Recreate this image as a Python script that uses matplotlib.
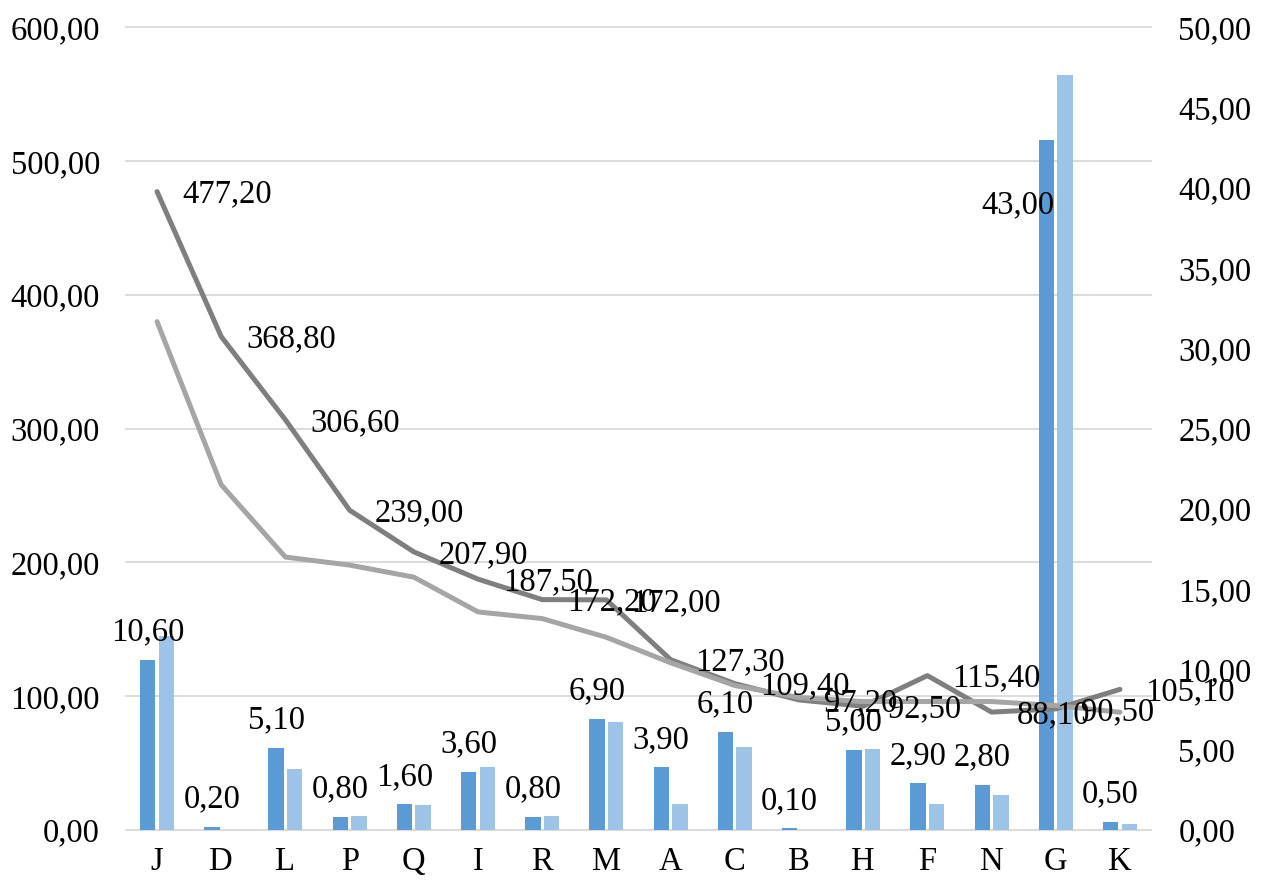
import numpy as np
import matplotlib
matplotlib.use("Agg")
import matplotlib.pyplot as plt

# data
categories = ['J', 'D', 'L', 'P', 'Q', 'I', 'R', 'M', 'A', 'C', 'B', 'H', 'F', 'N', 'G', 'K']
bars_dark = [10.60, 0.20, 5.10, 0.80, 1.60, 3.60, 0.80, 6.90, 3.90, 6.10, 0.10, 5.00, 2.90, 2.80, 43.00, 0.50]
bars_light = [12.1, 0.0, 3.8, 0.85, 1.55, 3.95, 0.85, 6.7, 1.6, 5.15, 0.0, 5.05, 1.6, 2.2, 47.0, 0.4]
line_dark = [477.20, 368.80, 306.60, 239.00, 207.90, 187.50, 172.20, 172.00, 127.30, 109.40,
             97.20, 92.50, 115.40, 88.10, 90.50, 105.10]
line_light = [380, 258, 204, 198, 189, 163, 158, 144, 125, 108, 99, 96, 96, 96, 93, 88]

left_ticks = [0, 100, 200, 300, 400, 500, 600]
right_ticks = [0, 5, 10, 15, 20, 25, 30, 35, 40, 45, 50]


def fmt(v):
    # comma decimal separator
    return f"{v:.2f}".replace('.', ',')


plt.rcParams['font.family'] = ['Liberation Serif', 'DejaVu Serif']
plt.rcParams['font.size'] = 23.5

fig = plt.figure(figsize=(12.66, 8.82), dpi=100)
ax = fig.add_axes([0.0987, 0.059, 0.8113, 0.910])   # lines, left scale
ax2 = ax.twinx()                                     # bars, right scale
ax.set_zorder(ax2.get_zorder() + 1)
ax.patch.set_visible(False)

x = np.arange(len(categories))
w = 0.24
off = 0.145

ax2.bar(x - off, bars_dark, w, color='#5B9BD5', zorder=2)
ax2.bar(x + off, bars_light, w, color='#9DC3E6', zorder=2)

# gridlines follow the left scale but sit behind the bars
ax2.set_ylim(0, 50)
ax2.set_yticks(right_ticks)
ax2.set_yticklabels([fmt(t) for t in right_ticks])
ax2.hlines(np.linspace(0, 50, len(left_ticks)), -0.5, len(categories) - 0.5,
           color='#D9D9D9', lw=1.3, zorder=0, clip_on=False)
ax2.tick_params(axis='y', length=0, pad=19)

ax.plot(x, line_dark, color='#7F7F7F', lw=3.6, solid_capstyle='round', zorder=3)
ax.plot(x, line_light, color='#A5A5A5', lw=3.6, solid_capstyle='round', zorder=3)

ax.set_ylim(0, 600)
ax.set_yticks(left_ticks)
ax.set_yticklabels([fmt(t) for t in left_ticks])
ax.set_xlim(-0.5, len(categories) - 0.5)
ax.set_xticks(x)
ax.set_xticklabels(categories)
ax.tick_params(axis='y', length=0, pad=18)
ax.tick_params(axis='x', length=0, pad=12)

for a in (ax, ax2):
    for s in a.spines.values():
        s.set_visible(False)

# line labels, right of each point
for xi, v in zip(x, line_dark):
    ax.annotate(fmt(v), (xi, v), xytext=(18, -2), textcoords='offset points',
                ha='left', va='center', zorder=5)

# bar labels on the dark bars
for xi, v in zip(x, bars_dark):
    if v > 40:
        ax.annotate(fmt(v), (xi - off + w / 2, v), xycoords=ax2.transData,
                    xytext=(0, -53), textcoords='offset points',
                    ha='right', va='baseline', zorder=5)
    else:
        ax.annotate(fmt(v), (xi - off, v), xycoords=ax2.transData,
                    xytext=(0, 14), textcoords='offset points',
                    ha='center', va='baseline', zorder=5)

plt.savefig('out.png', dpi=100)
